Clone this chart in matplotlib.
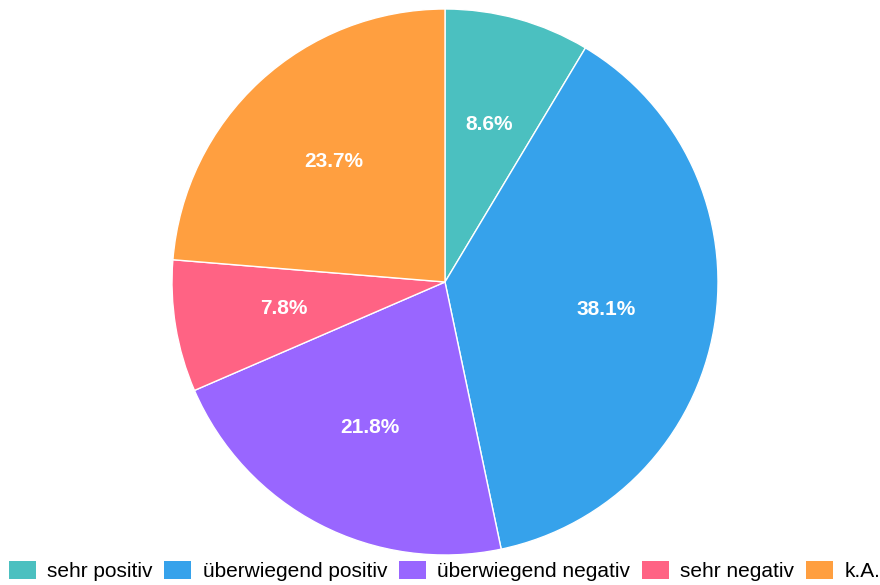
import matplotlib
matplotlib.use("Agg")
import matplotlib.pyplot as plt
from matplotlib.patches import Patch

labels = ["sehr positiv", "überwiegend positiv", "überwiegend negativ", "sehr negativ", "k.A."]
shares = [8.6, 38.1, 21.8, 7.8, 23.7]
colors = ["#4BC0C0", "#36A2EB", "#9966FF", "#FF6384", "#FF9F40"]

plt.rcParams["font.family"] = ["Liberation Sans", "DejaVu Sans"]

W, H = 880, 585
fig = plt.figure(figsize=(W / 100, H / 100), dpi=100)

cx, cy, r = 445, 282, 273
ax = fig.add_axes([(cx - r) / W, (H - cy - r) / H, 2 * r / W, 2 * r / H])
wedges, texts, autotexts = ax.pie(
    shares, colors=colors, startangle=90, counterclock=False,
    autopct="%.1f%%", pctdistance=0.6,
    wedgeprops=dict(edgecolor="white", linewidth=1),
    textprops=dict(color="white", fontsize=15, fontweight="bold"),
)
ax.set_xlim(-1, 1)
ax.set_ylim(-1, 1)
ax.set_aspect("equal")
ax.axis("off")

handles = [Patch(facecolor=c, edgecolor="none") for c in colors]
fig.legend(handles, labels, loc="center", bbox_to_anchor=(0.505, 1 - 571 / H),
           ncol=5, frameon=False, fontsize=15, handlelength=1.3, handleheight=1.0,
           handletextpad=0.55, columnspacing=0.55, borderpad=0, borderaxespad=0)

fig.savefig("out.png", dpi=100)
